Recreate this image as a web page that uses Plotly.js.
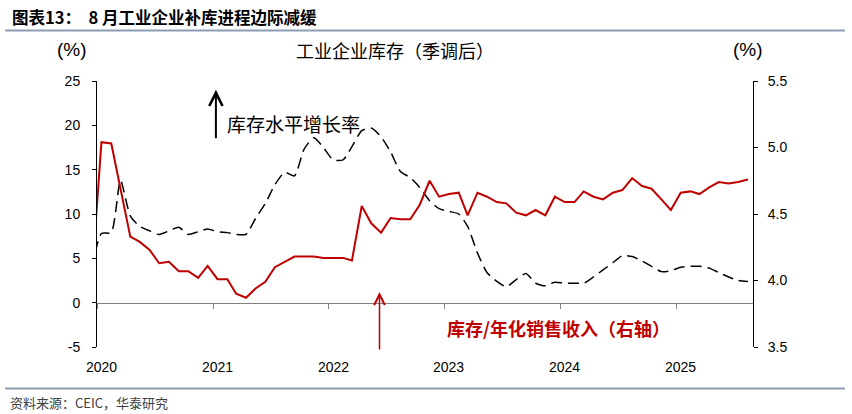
<!DOCTYPE html>
<html>
<head>
<meta charset="utf-8">
<script src="https://cdn.plot.ly/plotly-3.0.1.min.js"></script>
<style>html,body{margin:0;padding:0;background:#fff;}#chart{width:852px;height:414px;}</style>
</head>
<body>
<div id="chart"></div>
<script>
// Monthly series, first value = Dec 2019 (partly outside the axis), last = Aug 2025
const startYear = 2019;
const startMonth = 12;
// 库存水平增长率 (left axis, %)
const inventoryGrowth = [
  3.8,
  7.8, 7.9, 13.8, 9.8, 8.6, 8.1, 7.7, 8.1, 8.5, 7.7, 8.0, 8.3,
  8.0, 7.9, 7.7, 7.7, 9.5, 11.2, 13.3, 14.7, 14.3, 17.3, 18.6, 17.5,
  16.1, 16.1, 17.6, 19.4, 19.7, 18.7, 17.0, 14.8, 14.1, 13.0, 11.5, 10.6,
  10.3, 10.0, 8.6, 5.6, 3.4, 2.4, 1.8, 2.6, 3.3, 2.2, 1.9, 2.3,
  2.2, 2.2, 2.2, 2.9, 3.7, 4.5, 5.3, 5.2, 4.7, 4.1, 3.5, 3.6,
  4.0, 4.1, 4.1, 3.9, 3.4, 2.9, 2.5, 2.4
];
// 库存/年化销售收入 (right axis, %)
const inventoryToSales = [
  4.00,
  5.04, 5.03, 4.68, 4.33, 4.29, 4.23, 4.13, 4.14, 4.07, 4.07, 4.02, 4.11,
  4.01, 4.01, 3.90, 3.87, 3.94, 3.99, 4.10, 4.14, 4.18, 4.18, 4.18, 4.17,
  4.17, 4.17, 4.15, 4.56, 4.43, 4.36, 4.47, 4.46, 4.46, 4.57, 4.75, 4.63,
  4.65, 4.66, 4.49, 4.66, 4.63, 4.59, 4.58, 4.51, 4.49, 4.53, 4.49, 4.63,
  4.59, 4.59, 4.67, 4.63, 4.61, 4.66, 4.68, 4.77, 4.71, 4.69, 4.61, 4.53,
  4.66, 4.67, 4.65, 4.70, 4.74, 4.73, 4.74, 4.76
];
const yearLabels = ['2020', '2021', '2022', '2023', '2024', '2025'];
const leftTickVals = [-5, 0, 5, 10, 15, 20, 25];
const leftTickText = ['-5', '0', '5', '10', '15', '20', '25'];
const xRange = ['2020-01-01', '2025-08-31'];
const leftRange = [-5, 25];
const rightRange = [3.5, 5.5];

const dates = inventoryGrowth.map((_, i) => {
  const t = startYear * 12 + (startMonth - 1) + i;
  const y = Math.floor(t / 12), m = (t % 12) + 1;
  return y + '-' + String(m).padStart(2, '0') + '-15';
});

const RED = '#C00000';
const CJK = '"Noto Sans CJK SC", "Noto Sans", sans-serif';
const LAT = '"Liberation Sans", Arial, sans-serif';

const traces = [
  {
    x: dates, y: inventoryGrowth, type: 'scatter', mode: 'lines',
    name: '库存水平增长率', xaxis: 'x', yaxis: 'y',
    line: { color: '#000000', width: 1.5, dash: '11px,6px', shape: 'spline', smoothing: 0.6 },
    hoverinfo: 'skip'
  },
  {
    x: dates, y: inventoryToSales, type: 'scatter', mode: 'lines',
    name: '库存/年化销售收入（右轴）', xaxis: 'x', yaxis: 'y2',
    line: { color: RED, width: 2 },
    hoverinfo: 'skip'
  }
];

const annotations = [];
yearLabels.forEach(yr => {
  annotations.push({
    x: yr + '-01-15', xref: 'x', y: -0.074, yref: 'paper',
    text: yr, showarrow: false, xanchor: 'center', yanchor: 'middle',
    font: { family: LAT, size: 14, color: '#000' }
  });
});
annotations.push(
  { x: -0.132, xref: 'paper', y: 1.239, yref: 'paper', xanchor: 'left', yanchor: 'middle', showarrow: false,
    text: '<b>图表13：  8 月工业企业补库进程边际减缓</b>', font: { family: CJK, size: 16.5, color: '#000' } },
  { x: -0.038, xref: 'paper', y: 1.12, yref: 'paper', xanchor: 'center', yanchor: 'middle', showarrow: false,
    text: '(%)', font: { family: LAT, size: 19, color: '#000' } },
  { x: 0.993, xref: 'paper', y: 1.12, yref: 'paper', xanchor: 'center', yanchor: 'middle', showarrow: false,
    text: '(%)', font: { family: LAT, size: 19, color: '#000' } },
  { x: 0.454, xref: 'paper', y: 1.118, yref: 'paper', xanchor: 'center', yanchor: 'middle', showarrow: false,
    text: '工业企业库存（季调后）', font: { family: CJK, size: 18, color: '#000' } },
  { x: 0.195, xref: 'paper', y: 0.841, yref: 'paper', xanchor: 'left', yanchor: 'middle', showarrow: false,
    text: '库存水平增长率', font: { family: CJK, size: 19, color: '#000' } },
  { x: 0.5305, xref: 'paper', y: 0.072, yref: 'paper', xanchor: 'left', yanchor: 'middle', showarrow: false,
    text: '<b>库存/年化销售收入（右轴）</b>', font: { family: CJK, size: 18, color: RED } },
  { x: '2021-01-10', xref: 'x', y: 24, yref: 'y', ax: 0, ay: 50, text: '', showarrow: true,
    arrowhead: 5, arrowsize: 1.3, arrowwidth: 2, arrowcolor: '#000' },
  { x: '2022-06-10', xref: 'x', y: 1.2, yref: 'y', ax: 0, ay: 59, text: '', showarrow: true,
    arrowhead: 5, arrowsize: 1.4, arrowwidth: 1.5, arrowcolor: RED },
  { x: -0.1357, xref: 'paper', y: -0.209, yref: 'paper', xanchor: 'left', yanchor: 'middle', showarrow: false,
    text: '资料来源：CEIC，华泰研究', font: { family: CJK, size: 13, color: '#404040' } }
);

const layout = {
  width: 852, height: 414,
  margin: { l: 97, r: 99, t: 81, b: 67, pad: 0 },
  paper_bgcolor: '#ffffff', plot_bgcolor: '#ffffff',
  showlegend: false,
  xaxis: {
    type: 'date', range: xRange, anchor: 'free',
    position: (0 - leftRange[0]) / (leftRange[1] - leftRange[0]),
    showline: true, linecolor: '#808080', linewidth: 1.5,
    ticks: 'outside', ticklen: 5, tickcolor: '#808080', tickwidth: 1,
    tick0: '2020-01-01', dtick: 'M12', showticklabels: false,
    showgrid: false, zeroline: false, fixedrange: true
  },
  yaxis: {
    range: leftRange, tickmode: 'array', tickvals: leftTickVals, ticktext: leftTickText,
    showline: true, linecolor: '#000', linewidth: 1,
    ticks: 'outside', ticklen: 4, tickcolor: '#000',
    ticklabelstandoff: 9,
    showgrid: false, zeroline: false,
    tickfont: { family: LAT, size: 14, color: '#000' }, fixedrange: true
  },
  yaxis2: {
    range: rightRange, dtick: 0.5, tick0: 3.5, tickformat: '.1f',
    overlaying: 'y', side: 'right', anchor: 'x',
    showline: true, linecolor: '#000', linewidth: 1,
    ticks: 'outside', ticklen: 4, tickcolor: '#000',
    ticklabelstandoff: 7,
    showgrid: false, zeroline: false,
    tickfont: { family: LAT, size: 14, color: '#000' }, fixedrange: true
  },
  shapes: [
    { type: 'line', xref: 'paper', yref: 'paper', x0: -0.140, x1: 1.140, y0: 1.190, y1: 1.190,
      line: { color: '#8C9CB2', width: 2 } },
    { type: 'line', xref: 'paper', yref: 'paper', x0: -0.140, x1: 1.140, y0: -0.156, y1: -0.156,
      line: { color: '#8C9CB2', width: 2 } }
  ],
  annotations: annotations
};

Plotly.newPlot('chart', traces, layout, { staticPlot: true, displayModeBar: false });
</script>
</body>
</html>
